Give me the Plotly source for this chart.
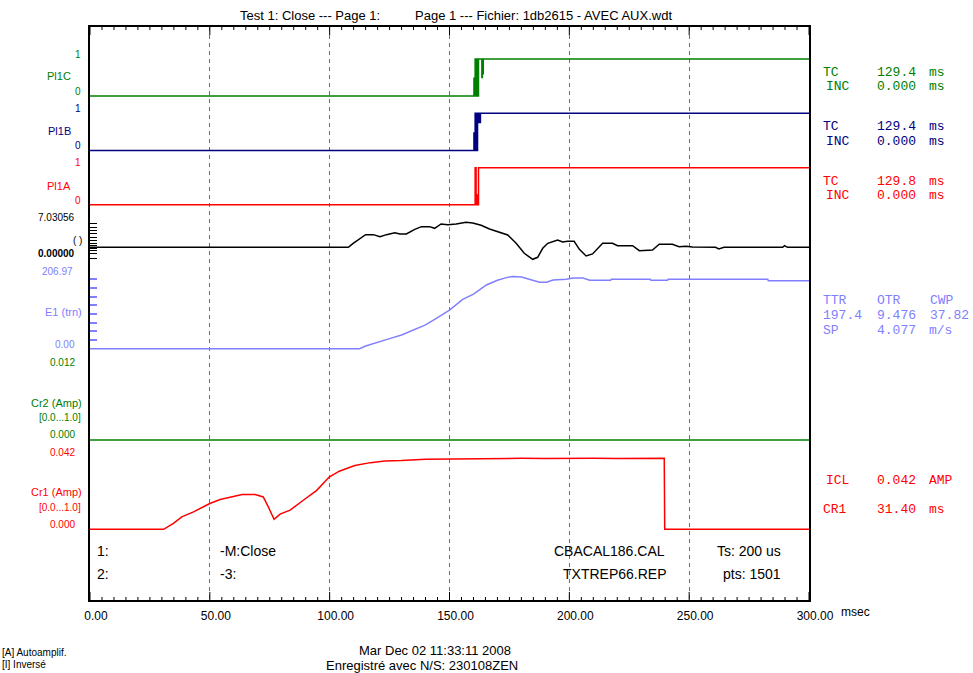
import plotly.graph_objects as go

# ---------------- data (time in msec) ----------------
pl1c_t = [0, 160.2, 160.4, 160.7, 161.1, 161.3, 161.5, 161.7, 161.9, 162.1, 163.5, 163.7, 163.9, 164.1, 300]
pl1c_v = [0, 0.48, 0, 1, 0, 1, 0, 1, 0, 1, 0.5, 1, 0.6, 1, 1]

pl1b_t = [0, 160.2, 160.4, 160.7, 161.1, 161.3, 161.5, 161.7, 161.9, 162.1, 162.3, 162.5, 162.7, 162.9, 300]
pl1b_v = [0, 0.47, 0, 1, 0, 1, 0, 1, 0.75, 1, 0.8, 1, 0.75, 1, 1]

pl1a_t = [0, 160.7, 161.1, 161.3, 161.5, 161.7, 161.9, 162.1, 300]
pl1a_v = [0, 1, 0, 0.26, 0, 0.26, 0, 1, 1]

blk_t = [0, 107.8, 109.8, 112.6, 115, 118.2, 121, 123.7, 127.2, 129.3, 132, 135.5, 138.3, 141.7,
         143.8, 146.5, 149.3, 152.8, 156.9, 159.7, 163.2, 166.7, 170.8, 174.3, 177.8, 181.2,
         184.7, 186.8, 188.9, 191, 195.1, 197.2, 199.3, 202, 204.2, 207, 209.7, 213.9, 218,
         220.1, 226.4, 229.2, 234.7, 237.5, 243, 245.8, 248.6, 251.4, 261, 262.4, 264.5, 289,
         289.8, 291, 300]
blk_v = [0, 0, 1.2, 2.7, 3.8, 3.8, 3.2, 3.8, 4.4, 4.0, 4.0, 5.4, 6.2, 6.2,
         5.7, 7.0, 6.8, 7.0, 7.5, 7.3, 6.6, 5.5, 4.5, 3.7, 1.2, -1.8,
         -3.6, -3.0, -0.3, 1.2, 2.2, 1.6, 1.8, 1.8, -0.6, -2.6, -2.0, 1.2, 1.2,
         0.5, 0.5, -1.0, -0.8, 0.9, 0.9, 0.2, 0.3, 0.1, 0.0, -0.5, 0.0, 0.0,
         0.5, 0.0, 0.0]
blk_ticks = [7, 6, 5, 4, 3, 2, 1, 0.5, -0.5, -1, -2, -3.5]

e1_t = [0, 112.5, 115, 120, 125, 130, 135, 140, 145, 150, 155.5, 160, 165.4, 170, 173.7, 176.5,
        180, 184.8, 187.6, 190.5, 193.2, 198.7, 201.5, 205.7, 208.5, 217.3, 217.5, 233.8, 234,
        241, 241.2, 282.8, 283, 300]
e1_v = [0, 0, 8, 20, 30, 41, 55, 71, 93, 115, 147, 163, 190, 204, 212, 215,
        214, 205, 198, 198, 205, 207, 211, 211, 204, 204, 207, 207, 204,
        204, 207, 207, 203, 203]
e1_max = 206.97

cr2_t = [0, 300]
cr2_v = [0.0, 0.0]

cr1_t = [0, 30.7, 34.8, 38.3, 43.2, 50, 54.3, 59.8, 63.5, 68.9, 72.3, 74.4, 76.8, 79.3, 83.5,
         89, 94.6, 99.8, 104, 110.5, 117, 123, 130, 140, 150, 160, 170, 180, 190, 200, 210,
         220, 230, 239.6, 239.8, 300]
cr1_v = [0, 0, 0.0035, 0.0073, 0.0102, 0.0151, 0.0174, 0.0193, 0.0203, 0.0203, 0.0189, 0.0131,
         0.0058, 0.0089, 0.0112, 0.0170, 0.0228, 0.0306, 0.0340, 0.0373, 0.0390, 0.0400, 0.0402,
         0.0410, 0.0412, 0.0414, 0.0413, 0.0415, 0.0414, 0.0416, 0.0415, 0.0414, 0.0416, 0.0415,
         0.0, 0.0]

x_ticks = [0, 50, 100, 150, 200, 250, 300]
x_ticktext = ["0.00", "50.00", "100.00", "150.00", "200.00", "250.00", "300.00"]
x_minor_step = 5

# ---------------- geometry helpers ----------------
W, H = 973, 673
ML, MR, MT, MB = 90, 164, 27, 73
PW = W - ML - MR
PH = H - MT - MB


def fx(p):
    return (p - ML) / PW


def fy(p):
    return (MT + PH - p) / PH


def band(v0, p0, v1, p1, lo, hi):
    s = (p1 - p0) / (v1 - v0)
    pb = p0 + (lo - v0) * s
    pt = p0 + (hi - v0) * s
    return [fy(pb), fy(pt)], [lo, hi]


def full_range(v0, p0, v1, p1):
    s = (p1 - p0) / (v1 - v0)
    return [v0 + (MT + PH - p0) / s, v0 + (MT - p0) / s]


GREEN = "#008000"
NAVY = "#000080"
RED = "#ff0000"
LBLUE = "#8080ff"

fig = go.Figure()

# Cr2 lives on the full-frame subplot (which also carries border and dashed grid)
fig.add_trace(go.Scatter(x=cr2_t, y=cr2_v, mode="lines", xaxis="x", yaxis="y",
                         line=dict(color=GREEN, width=1.5),
                         hoverinfo="skip", showlegend=False))
frame_range = full_range(0, 440, 0.012, 367)

channels = [
    ("y2", pl1c_t, pl1c_v, GREEN, "hv", band(0, 96, 1, 59, -0.2, 1.2)),
    ("y3", pl1b_t, pl1b_v, NAVY, "hv", band(0, 150.5, 1, 113.3, -0.2, 1.2)),
    ("y4", pl1a_t, pl1a_v, RED, "hv", band(0, 204.7, 1, 167.7, -0.2, 1.2)),
    ("y5", blk_t, blk_v, "#000000", "linear", band(0, 247.3, 1, 243.97, -5, 9)),
    ("y6", e1_t, e1_v, LBLUE, "linear", band(0, 348.7, e1_max, 279.3, -10, 230)),
    ("y8", cr1_t, cr1_v, RED, "linear", band(0, 529.3, 0.042, 457.5, -0.002, 0.045)),
]

layout_axes = {}
for ya, t, v, col, shape, (dom, rng) in channels:
    fig.add_trace(go.Scatter(x=t, y=v, mode="lines", xaxis="x2", yaxis=ya,
                             line=dict(color=col, width=1.5, shape=shape),
                             hoverinfo="skip", showlegend=False))
    ax = dict(domain=dom, range=rng, anchor="x2", showgrid=False, zeroline=False,
              showticklabels=False, showline=False, ticks="", fixedrange=True)
    layout_axes["yaxis" + ya[1:]] = ax

layout_axes["yaxis5"].update(ticks="inside", tickvals=blk_ticks, ticklen=7,
                             tickcolor="#000000", tickwidth=1)
layout_axes["yaxis6"].update(ticks="inside", tickvals=[e1_max * k / 8 for k in range(1, 9)],
                             ticklen=7, tickcolor=LBLUE, tickwidth=1.5)

fig.update_layout(
    width=W, height=H,
    margin=dict(l=ML, r=MR, t=MT, b=MB, pad=0),
    paper_bgcolor="white", plot_bgcolor="rgba(0,0,0,0)",
    showlegend=False,
    xaxis=dict(domain=[0, 1], range=[0, 300], anchor="y",
               tickmode="array", tickvals=x_ticks, ticktext=x_ticktext,
               ticks="", showline=True, linecolor="#000000", linewidth=1.5, mirror=True,
               showgrid=True, gridcolor="#707070", gridwidth=1, griddash="4px,4px",
               zeroline=False,
               tickfont=dict(family="Liberation Sans, Arial", size=12, color="#000000"),
               ticklabelshift=6, ticklabelstandoff=4, fixedrange=True),
    yaxis=dict(domain=[0, 1], range=frame_range, anchor="x",
               showline=True, linecolor="#000000", linewidth=1.5, mirror=True,
               showgrid=False, zeroline=False, showticklabels=False, ticks="", fixedrange=True),
    xaxis2=dict(domain=[0, 1], range=[0, 300], anchor="y2", visible=False, fixedrange=True),
    **layout_axes,
)

# tick combs on the bottom and top borders, placed on the time axis (pixel-length ticks)
tick_shapes = []
for v in range(0, 301, x_minor_step):
    L = 8 if v in x_ticks else 3
    for anchor_y, sign in ((0, 1), (1, -1)):
        tick_shapes.append(dict(type="line", xref="x", x0=v, x1=v,
                                yref="paper", ysizemode="pixel", yanchor=anchor_y,
                                y0=0, y1=sign * L,
                                line=dict(color="#000000", width=1), layer="above"))
fig.update_layout(shapes=tick_shapes)

ann = []


def txt(s, xp, yp, col="#000000", size=10, fam="Liberation Sans Narrow, Liberation Sans, Arial", anchor="right"):
    ann.append(dict(text=s, x=fx(xp), y=fy(yp), xref="paper", yref="paper",
                    xanchor=anchor, yanchor="middle", showarrow=False,
                    font=dict(family=fam, size=size, color=col)))


# title
txt("Test 1: Close --- Page 1:", 382, 16, size=13, fam="Liberation Sans, Arial", anchor="right")
txt("Page 1 --- Fichier: 1db2615 - AVEC AUX.wdt", 413, 16, size=13, fam="Liberation Sans, Arial", anchor="left")

# left channel labels
for lab, yv, col in [("1", 54, GREEN), ("0", 91, GREEN), ("1", 109, NAVY), ("0", 145.5, NAVY),
                     ("1", 163, RED), ("0", 200, RED)]:
    txt(lab, 83, yv, col, 10)
txt("Pl1C", 73, 76, GREEN, 11)
txt("Pl1B", 73, 131, NAVY, 11)
txt("Pl1A", 73, 186, RED, 11)
txt("7.03056", 77, 217.5, "#000000", 10)
txt("( )", 84, 240.5, "#000000", 10)
txt("<b>0.00000</b>", 77, 253.7, "#000000", 10)
txt("206.97", 75, 271.3, LBLUE, 10)
txt("E1 (trn)", 84, 312, LBLUE, 11)
txt("0.00", 77, 344, LBLUE, 10)
txt("0.012", 77, 362, GREEN, 10)
txt("Cr2 (Amp)", 84, 403, GREEN, 11)
txt("[0.0...1.0]", 83, 418, GREEN, 10)
txt("0.000", 77, 434, GREEN, 10)
txt("0.042", 77, 452, RED, 10)
txt("Cr1 (Amp)", 84, 492, RED, 11)
txt("[0.0...1.0]", 83, 507, RED, 10)
txt("0.000", 77, 524, RED, 10)

# right side results
MONO = "Liberation Mono, Courier New, monospace"
right_rows = [
    (GREEN, 72.3, [("TC", 821), ("129.4", 875), ("ms", 927)]),
    (GREEN, 86.5, [("INC", 824), ("0.000", 875), ("ms", 927)]),
    (NAVY, 126.7, [("TC", 821), ("129.4", 875), ("ms", 927)]),
    (NAVY, 141, [("INC", 824), ("0.000", 875), ("ms", 927)]),
    (RED, 181, [("TC", 821), ("129.8", 875), ("ms", 927)]),
    (RED, 195.5, [("INC", 824), ("0.000", 875), ("ms", 927)]),
    (LBLUE, 300, [("TTR", 821), ("OTR", 875), ("CWP", 928)]),
    (LBLUE, 315, [("197.4", 821), ("9.476", 875), ("37.82", 928)]),
    (LBLUE, 330, [("SP", 821), ("4.077", 875), ("m/s", 927)]),
    (RED, 480.7, [("ICL", 824), ("0.042", 875), ("AMP", 927)]),
    (RED, 510, [("CR1", 821), ("31.40", 875), ("ms", 927)]),
]
for col, yv, segs in right_rows:
    for s, xp in segs:
        txt(s, xp, yv, col, 13, MONO, "left")

# info text inside plot
SANS = "Liberation Sans, Arial"
txt("1:", 95, 550.7, size=14, fam=SANS, anchor="left")
txt("-M:Close", 218, 550.7, size=14, fam=SANS, anchor="left")
txt("CBACAL186.CAL", 667, 550.7, size=14, fam=SANS, anchor="right")
txt("Ts: 200 us", 783, 550.7, size=14, fam=SANS, anchor="right")
txt("2:", 95, 574, size=14, fam=SANS, anchor="left")
txt("-3:", 218, 574, size=14, fam=SANS, anchor="left")
txt("TXTREP66.REP", 668, 574, size=14, fam=SANS, anchor="right")
txt("pts: 1501", 783, 574, size=14, fam=SANS, anchor="right")

# axis unit
txt("msec", 839, 611.7, size=12, fam=SANS, anchor="left")

# footer
txt("[A] Autoamplif.", 0, 652, size=10, anchor="left")
txt("[I] Inversé", 0, 664, size=10, anchor="left")
txt("Mar Dec 02 11:33:11 2008", 435, 650.7, size=13, fam=SANS, anchor="center")
txt("Enregistré avec N/S: 230108ZEN", 422, 665, size=13, fam=SANS, anchor="center")

fig.update_layout(annotations=ann)

fig.write_html("out.html", config={"displayModeBar": False},
               post_script="document.body.style.margin='0px';")
